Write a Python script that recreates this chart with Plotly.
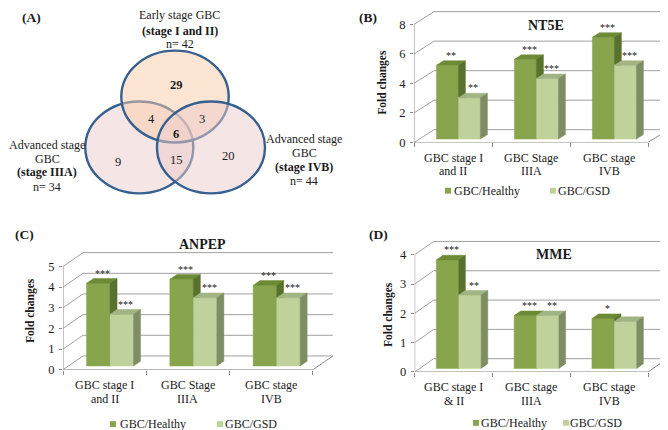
import plotly.graph_objects as go

W, H = 668, 430
FONT = "Liberation Serif"

# ---------------- data ----------------
venn_titles = ["Early stage GBC", "Advanced stage", "Advanced stage"]
venn_sub = ["", "GBC", "GBC"]
venn_stages = ["(stage I and II)", "(stage IIIA)", "(stage IVB)"]
venn_n = [42, 34, 44]
venn_regions = ["early", "early+IIIA", "early+IVB", "all", "IIIA", "IIIA+IVB", "IVB"]
venn_counts = [29, 4, 3, 6, 9, 15, 20]
venn_bold = [True, False, False, True, False, False, False]

series_names = ["GBC/Healthy", "GBC/GSD"]

cats_nt5e = ["GBC stage I<br>and II", "GBC Stage<br>IIIA", "GBC stage<br>IVB"]
nt5e_healthy = [5.0, 5.4, 6.9]
nt5e_gsd = [2.8, 4.1, 5.0]
nt5e_sig_healthy = ["**", "***", "***"]
nt5e_sig_gsd = ["**", "***", "***"]
nt5e_ticks = [0, 2, 4, 6, 8]

cats_anpep = ["GBC stage I<br>and II", "GBC Stage<br>IIIA", "GBC stage<br>IVB"]
anpep_healthy = [4.0, 4.2, 3.9]
anpep_gsd = [2.5, 3.3, 3.3]
anpep_sig_healthy = ["***", "***", "***"]
anpep_sig_gsd = ["***", "***", "***"]
anpep_ticks = [0, 1, 2, 3, 4, 5]

cats_mme = ["GBC stage I<br>& II", "GBC stage<br>IIIA", "GBC stage<br>IVB"]
mme_healthy = [3.7, 1.8, 1.7]
mme_gsd = [2.5, 1.8, 1.6]
mme_sig_healthy = ["***", "***", "*"]
mme_sig_gsd = ["**", "**", ""]
mme_ticks = [0, 1, 2, 3, 4]

# ---------------- styles / layout ----------------
DARK = dict(front="#88a54d", top="#6d8b35", side="#58712c")
LIGHT = dict(front="#bfd29b", top="#a1b483", side="#7e8d63")
GRID = "#a0a0a0"
AXIS = "#8a8a8a"
TXT = "#1a1a1a"

fig = go.Figure()
annotations = []
shapes = []


def px(x):
    return x / W


def py(y):
    return 1 - y / H


def ann(x, y, text, size=12, bold=False, **kw):
    t = f"<b>{text}</b>" if bold else text
    d = dict(x=px(x), y=py(y), xref="paper", yref="paper", text=t, showarrow=False,
             font=dict(family=FONT, size=size, color=TXT), xanchor="center", yanchor="middle")
    d.update(kw)
    annotations.append(d)


# ---------------- Venn (axis 1, pixel units) ----------------
fig.update_layout(
    xaxis=dict(domain=[0, 335 / W], range=[0, 335], visible=False, fixedrange=True),
    yaxis=dict(domain=[1 - 215 / H, 1], range=[215, 0], visible=False, fixedrange=True),
)
circles = [  # (cx, cy, rx, ry, fill) drawn in this order
    (131.3, 141.7, 54.0, 46.7, "rgba(235,203,203,0.5)"),
    (167.0, 90.0, 53.7, 46.7, "rgba(251,203,167,0.5)"),
    (203.0, 141.7, 54.0, 46.7, "rgba(235,203,203,0.5)"),
]
for cx, cy, rx, ry, fc in circles:
    shapes.append(dict(type="circle", xref="x", yref="y", x0=cx - rx, x1=cx + rx,
                       y0=cy - ry, y1=cy + ry, fillcolor=fc,
                       line=dict(color="#36608f", width=2.4), layer="above"))
region_pos = [(168, 78), (143, 113), (194, 113), (168, 128), (110, 157), (168, 155), (220, 150)]
for (x, y), c, b in zip(region_pos, venn_counts, venn_bold):
    ann(x, y, str(c), 12.5, b)

label_pos = [  # centre x, y of each line
    (172, [7.5, 23, 36.5]),
    (39, [139, 153, 167, 181.5]),
    (296, [133, 147.5, 162, 176]),
]
for i, (x, ys) in enumerate(label_pos):
    lines = [(venn_titles[i], False)]
    if venn_sub[i]:
        lines.append((venn_sub[i], False))
    lines.append((venn_stages[i], True))
    lines.append((f"n= {venn_n[i]}", False))
    for (t, b), y in zip(lines, ys):
        ann(x, y, t, 12, b, borderpad=0)

ann(23.5, 10, "(A)", 13.5, True)


# ---------------- 3-D style bar panels ----------------
def bar_panel(n, cats, vals_h, vals_g, sig_h, sig_g, yticks, P):
    xr, yr = f"x{n}", f"y{n}"
    catW, S = P["catW"], P["S"]
    Dx, Dy = P["dxp"] / catW, P["dyp"] / S
    ncat = len(cats)
    x_lo = -0.5
    x_hi = -0.5 + (P["right"] - P["ax0"]) / catW
    y_hi = (P["Y0"] - P["top"]) / S
    fig.layout[f"xaxis{n}"] = dict(
        domain=[px(P["ax0"]), px(P["right"])], range=[x_lo, x_hi], anchor=yr,
        tickmode="array", tickvals=list(range(ncat)), showticklabels=False,
        ticks="outside", ticklen=4, tickcolor="rgba(0,0,0,0)",
        minor=dict(tickmode="array", tickvals=[i - 0.5 for i in range(ncat + 1)],
                   ticks="outside", ticklen=4, tickcolor=AXIS, showgrid=False),
        showgrid=False, zeroline=False, showline=False, fixedrange=True,
    )
    fig.layout[f"yaxis{n}"] = dict(
        domain=[py(P["Y0"]), py(P["top"])], range=[0, y_hi], anchor=xr,
        tickmode="array", tickvals=yticks, ticks="outside", ticklen=3, tickcolor=AXIS,
        showgrid=False, zeroline=False, showline=False, fixedrange=True,
        tickfont=dict(family=FONT, size=12.5, color=TXT), ticklabelstandoff=2,
    )
    # category labels, one line at a time
    for i, c in enumerate(cats):
        for k, line in enumerate(c.split("<br>")):
            annotations.append(dict(x=i, y=py(P["Y0"] + 15.5 + 13.8 * k), xref=xr, yref="paper",
                                    text=line, showarrow=False, yanchor="middle", borderpad=0,
                                    font=dict(family=FONT, size=12, color=TXT)))
    common = dict(xaxis=xr, yaxis=yr, hoverinfo="skip", showlegend=False, cliponaxis=False)
    # back wall gridlines + left wall diagonals
    gx, gy = [], []
    xb = ncat - 0.5
    for v in yticks:
        gx += [-0.5, -0.5 + Dx, xb + Dx, None]
        gy += [v, v + Dy, v + Dy, None]
    fig.add_trace(go.Scatter(x=gx, y=gy, mode="lines", line=dict(color=GRID, width=1), **common))
    # floor edges and front value axis
    fx = [-0.5, xb, xb + Dx, None, -0.5, -0.5]
    fy = [0, 0, Dy, None, 0, yticks[-1]]
    fig.add_trace(go.Scatter(x=fx, y=fy, mode="lines", line=dict(color=AXIS, width=1), **common))
    # bars
    bw = P["bw"] / catW
    f0, f1 = 0.27, 0.62
    ox0, oy0, ox1, oy1 = f0 * Dx, f0 * Dy, f1 * Dx, f1 * Dy
    for si, (vals, col) in enumerate([(vals_h, DARK), (vals_g, LIGHT)]):
        faces = {"front": ([], []), "top": ([], []), "side": ([], [])}
        for i, v in enumerate(vals):
            L = i - bw + si * bw
            R = L + bw
            fxs, fys = faces["front"]
            fxs += [L + ox0, R + ox0, R + ox0, L + ox0, L + ox0, None]
            fys += [oy0, oy0, v + oy0, v + oy0, oy0, None]
            txs, tys = faces["top"]
            txs += [L + ox0, R + ox0, R + ox1, L + ox1, L + ox0, None]
            tys += [v + oy0, v + oy0, v + oy1, v + oy1, v + oy0, None]
            sxs, sys_ = faces["side"]
            sxs += [R + ox0, R + ox1, R + ox1, R + ox0, R + ox0, None]
            sys_ += [oy0, oy1, v + oy1, v + oy0, oy0, None]
        for face in ["front", "top", "side"]:
            xs, ys = faces[face]
            fig.add_trace(go.Scatter(x=xs, y=ys, mode="lines", fill="toself",
                                     fillcolor=col[face], line=dict(color=col[face], width=0.5),
                                     **common))
        sigs = sig_h if si == 0 else sig_g
        for i, (v, s) in enumerate(zip(vals, sigs)):
            if not s:
                continue
            L = i - bw + si * bw
            annotations.append(dict(x=L + bw / 2 + ox0, y=v + oy0, xref=xr, yref=yr, text=s,
                                    showarrow=False, xshift=4, yshift=10, yanchor="middle",
                                    font=dict(family=FONT, size=10, color=TXT)))
    # title, axis title, panel label, legend
    ann(P["title_xy"][0], P["title_xy"][1], P["title"], 14, True)
    ann(P["ylab_xy"][0], P["ylab_xy"][1], "Fold changes", 11.5, True, textangle=-90)
    ann(P["plab_xy"][0], P["plab_xy"][1], P["plab"], 13.5, True)
    ly = P["leg_y"]
    for (sx, tx), name, col in zip(P["leg_x"], series_names, [DARK, LIGHT]):
        shapes.append(dict(type="rect", xref="paper", yref="paper", x0=px(sx), x1=px(sx + 6),
                           y0=py(ly + 3), y1=py(ly - 3), fillcolor=col["front"], line=dict(width=0)))
        ann(tx, ly, name, 12, False, xanchor="left")


bar_panel(2, cats_nt5e, nt5e_healthy, nt5e_gsd, nt5e_sig_healthy, nt5e_sig_gsd, nt5e_ticks,
          dict(ax0=406, catW=78, Y0=136.7, S=15, dxp=20, dyp=13, bw=22, right=662, top=0,
               title="NT5E", title_xy=(537.5, 17.5), ylab_xy=(375, 76),
               plab="(B)", plab_xy=(360, 10), leg_y=185.7, leg_x=[(437, 444), (542, 548)]))
bar_panel(3, cats_anpep, anpep_healthy, anpep_gsd, anpep_sig_healthy, anpep_sig_gsd, anpep_ticks,
          dict(ax0=55, catW=83.3, Y0=367.7, S=21, dxp=20, dyp=14, bw=23.5, right=325, top=232,
               title="ANPEP", title_xy=(194, 240), ylab_xy=(23, 308),
               plab="(C)", plab_xy=(16, 230), leg_y=423, leg_x=[(102, 110), (209, 215)]))
bar_panel(4, cats_mme, mme_healthy, mme_gsd, mme_sig_healthy, mme_sig_gsd, mme_ticks,
          dict(ax0=406.7, catW=77.8, Y0=370, S=29.8, dxp=19, dyp=13.5, bw=22.4, right=662, top=232,
               title="MME", title_xy=(546, 251), ylab_xy=(380.5, 311.5),
               plab="(D)", plab_xy=(370, 230), leg_y=421.7, leg_x=[(465, 471), (555, 560)]))

fig.update_layout(
    width=W, height=H, margin=dict(l=0, r=0, t=0, b=0),
    paper_bgcolor="white", plot_bgcolor="white", showlegend=False,
    annotations=annotations, shapes=shapes,
    font=dict(family=FONT, size=12, color=TXT),
)
fig.write_html("out.html")
